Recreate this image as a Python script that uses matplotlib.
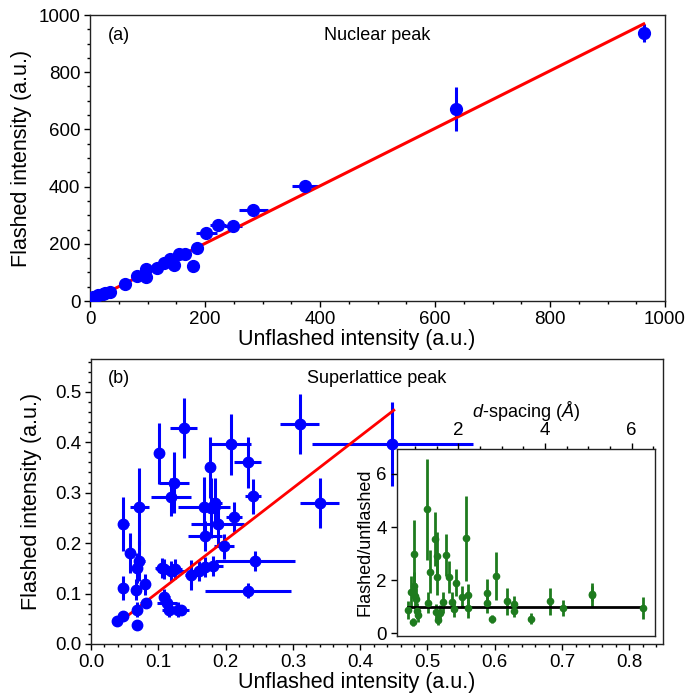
import matplotlib
matplotlib.use('Agg')
import matplotlib.pyplot as plt
from matplotlib.ticker import MultipleLocator

plt.rcParams['font.family'] = ['Liberation Sans', 'DejaVu Sans']
plt.rcParams['mathtext.fontset'] = 'custom'
plt.rcParams['mathtext.rm'] = 'Liberation Sans'
plt.rcParams['mathtext.it'] = 'Liberation Sans:italic'

BLUE = '#0000ff'
RED = '#ff0000'
GREEN = '#1e7b1e'

# (a) nuclear peak
nuc_unflashed = [6, 14, 22, 26, 35, 61, 82, 97, 97, 116, 128, 139, 146, 154, 165, 179, 186,
                 202, 223, 249, 284, 374, 636, 963]
nuc_flashed = [15, 21, 25, 29, 33, 59, 87, 111, 85, 114, 132, 146, 126, 163, 163, 123, 184,
               239, 266, 262, 318, 403, 671, 937]
nuc_xerr = [2, 2, 2, 2, 3, 3, 4, 4, 4, 5, 5, 5, 5, 6, 6, 6, 7,
            18, 14, 16, 25, 22, 6, 8]
nuc_yerr = [2, 2, 2, 2, 3, 3, 4, 4, 4, 5, 5, 5, 5, 6, 6, 6, 7,
            8, 8, 8, 9, 10, 77, 30]
nuc_slope = 1.006

# (b) superlattice peak
sl_unflashed = [0.038, 0.047, 0.068, 0.048, 0.048, 0.058, 0.072, 0.072, 0.069, 0.067, 0.080,
                0.069, 0.081, 0.101, 0.138, 0.123, 0.119, 0.109, 0.119, 0.109, 0.116, 0.129,
                0.113, 0.168, 0.177, 0.185, 0.179, 0.188, 0.169, 0.198, 0.212, 0.208, 0.233,
                0.241, 0.244, 0.233, 0.310, 0.340, 0.448, 0.181, 0.149, 0.161, 0.134, 0.105,
                0.170, 0.125]
sl_flashed = [0.046, 0.056, 0.038, 0.238, 0.111, 0.180, 0.272, 0.164, 0.150, 0.108, 0.118,
              0.068, 0.081, 0.378, 0.428, 0.320, 0.291, 0.149, 0.144, 0.094, 0.068, 0.068,
              0.081, 0.272, 0.350, 0.280, 0.270, 0.237, 0.214, 0.194, 0.252, 0.396, 0.360,
              0.293, 0.164, 0.106, 0.436, 0.280, 0.396, 0.154, 0.137, 0.144, 0.068, 0.150,
              0.152, 0.148]
sl_xerr = [0.004, 0.004, 0.004, 0.008, 0.006, 0.006, 0.014, 0.008, 0.006, 0.005, 0.006,
           0.005, 0.008, 0.008, 0.020, 0.022, 0.030, 0.012, 0.020, 0.008, 0.010, 0.012,
           0.015, 0.038, 0.008, 0.010, 0.012, 0.040, 0.025, 0.015, 0.012, 0.030, 0.020,
           0.012, 0.059, 0.064, 0.029, 0.029, 0.120, 0.015, 0.010, 0.012, 0.012, 0.010,
           0.012, 0.010]
sl_yerr = [0.004, 0.004, 0.005, 0.053, 0.023, 0.040, 0.076, 0.040, 0.030, 0.020, 0.020,
           0.015, 0.010, 0.061, 0.060, 0.060, 0.038, 0.020, 0.020, 0.015, 0.015, 0.015,
           0.015, 0.060, 0.060, 0.050, 0.060, 0.040, 0.030, 0.025, 0.030, 0.060, 0.050,
           0.035, 0.020, 0.015, 0.060, 0.050, 0.083, 0.020, 0.030, 0.020, 0.010, 0.020,
           0.020, 0.020]
sl_fit_x = [0.057, 0.450]
sl_slope = 1.03

# inset: ratio vs d-spacing
d_spacing = [0.83, 0.92, 0.96, 0.98, 0.99, 1.00, 1.02, 1.04, 1.08, 1.27, 1.31, 1.35, 1.46, 1.48,
             1.50, 1.52, 1.54, 1.58, 1.65, 1.71, 1.79, 1.85, 1.90, 1.94, 2.08, 2.18, 2.23, 2.23,
             2.67, 2.67, 2.79, 2.86, 3.13, 3.29, 3.29, 3.69, 4.12, 4.42, 5.09, 5.09, 6.27]
ratio = [0.88, 1.55, 0.44, 2.97, 1.80, 1.40, 1.30, 0.85, 0.68, 4.68, 1.15, 2.32, 3.55, 0.80,
         2.90, 2.13, 0.52, 0.78, 1.17, 2.95, 2.13, 1.19, 0.90, 1.91, 1.38, 3.58, 1.44, 0.94,
         1.53, 1.13, 0.55, 2.16, 1.20, 1.10, 0.85, 0.55, 1.20, 0.95, 1.45, 1.50, 0.95]
ratio_err = [0.35, 0.60, 0.15, 1.30, 0.50, 0.50, 0.40, 0.30, 0.25, 1.90, 0.40, 0.80, 1.00, 0.30,
             0.90, 0.70, 0.20, 0.30, 0.40, 0.80, 0.60, 0.35, 0.30, 0.50, 0.40, 1.60, 0.40, 0.35,
             0.50, 0.35, 0.15, 0.90, 0.50, 0.30, 0.25, 0.20, 0.50, 0.30, 0.45, 0.30, 0.40]

TICK_SIZE = 13.5
LABEL_SIZE = 15.5
TEXT_SIZE = 13


def style_axes(ax):
    for s in ax.spines.values():
        s.set_linewidth(1.0)
        s.set_color('#222222')
    ax.tick_params(which='major', direction='out', length=4.5, width=1.0, labelsize=TICK_SIZE, pad=2.5)
    ax.tick_params(which='minor', direction='out', length=2.5, width=1.0)


fig = plt.figure(figsize=(6.99, 6.98), dpi=100)

# panel (a)
ax_a = fig.add_axes([90 / 699, 1 - 301 / 698, 575 / 699, 286 / 698])
ax_a.errorbar(nuc_unflashed, nuc_flashed, xerr=nuc_xerr, yerr=nuc_yerr, fmt='none',
              ecolor=BLUE, elinewidth=2.2, zorder=2)
ax_a.plot([0, max(nuc_unflashed)], [0, nuc_slope * max(nuc_unflashed)], color=RED, lw=2.2, zorder=3)
ax_a.plot(nuc_unflashed, nuc_flashed, 'o', color=BLUE, ms=8.5, zorder=4)
ax_a.set_xlim(0, 1000)
ax_a.set_ylim(0, 1000)
ax_a.xaxis.set_major_locator(MultipleLocator(200))
ax_a.yaxis.set_major_locator(MultipleLocator(200))
ax_a.xaxis.set_minor_locator(MultipleLocator(50))
ax_a.yaxis.set_minor_locator(MultipleLocator(50))
style_axes(ax_a)
ax_a.set_xlabel('Unflashed intensity (a.u.)', fontsize=LABEL_SIZE)
ax_a.set_ylabel('Flashed intensity (a.u.)', fontsize=LABEL_SIZE)
ax_a.xaxis.set_label_coords(0.464, -0.098)
ax_a.yaxis.set_label_coords(-0.1, 0.5)
ax_a.text(0.031, 0.93, '(a)', transform=ax_a.transAxes, fontsize=TEXT_SIZE, va='center')
ax_a.text(0.5, 0.93, 'Nuclear peak', transform=ax_a.transAxes, fontsize=TEXT_SIZE, va='center', ha='center')

# panel (b)
ax_b = fig.add_axes([91 / 699, 1 - 644 / 698, 572 / 699, 285 / 698])
ax_b.errorbar(sl_unflashed, sl_flashed, xerr=sl_xerr, yerr=sl_yerr, fmt='none',
              ecolor=BLUE, elinewidth=2.2, zorder=2)
ax_b.plot(sl_fit_x, [sl_slope * x for x in sl_fit_x], color=RED, lw=2.0, zorder=3)
ax_b.plot(sl_unflashed, sl_flashed, 'o', color=BLUE, ms=7.5, zorder=4)
ax_b.set_xlim(0, 0.85)
ax_b.set_ylim(0, 0.565)
ax_b.xaxis.set_major_locator(MultipleLocator(0.1))
ax_b.yaxis.set_major_locator(MultipleLocator(0.1))
ax_b.xaxis.set_minor_locator(MultipleLocator(0.02))
ax_b.yaxis.set_minor_locator(MultipleLocator(0.02))
style_axes(ax_b)
ax_b.set_xlabel('Unflashed intensity (a.u.)', fontsize=LABEL_SIZE)
ax_b.set_ylabel('Flashed intensity (a.u.)', fontsize=LABEL_SIZE)
ax_b.xaxis.set_label_coords(0.465, -0.098)
ax_b.yaxis.set_label_coords(-0.085, 0.5)
ax_b.text(0.03, 0.933, '(b)', transform=ax_b.transAxes, fontsize=TEXT_SIZE, va='center')
ax_b.text(0.5, 0.933, 'Superlattice peak', transform=ax_b.transAxes, fontsize=TEXT_SIZE, va='center', ha='center')

# inset
ax_in = fig.add_axes([396.7 / 699, 1 - 636 / 698, 258.3 / 699, 187 / 698])
ax_in.set_facecolor('white')
ax_in.errorbar(d_spacing, ratio, yerr=ratio_err, fmt='none', ecolor=GREEN, elinewidth=2.0, zorder=2)
ax_in.plot([min(d_spacing), max(d_spacing)], [1, 1], color='black', lw=2.0, zorder=3)
ax_in.plot(d_spacing, ratio, 'o', color=GREEN, ms=4.5, zorder=4)
ax_in.set_xlim(0.58, 6.54)
ax_in.set_ylim(-0.1, 6.94)
ax_in.xaxis.tick_top()
ax_in.xaxis.set_label_position('top')
ax_in.xaxis.set_major_locator(MultipleLocator(2))
ax_in.xaxis.set_minor_locator(MultipleLocator(0.5))
ax_in.yaxis.set_major_locator(MultipleLocator(2))
style_axes(ax_in)
ax_in.set_xlabel(r'$d$-spacing ($\mathit{Å}$)', fontsize=TEXT_SIZE, labelpad=4)
ax_in.set_ylabel('Flashed/unflashed', fontsize=TEXT_SIZE, labelpad=2)

fig.savefig('out.png', dpi=100)
